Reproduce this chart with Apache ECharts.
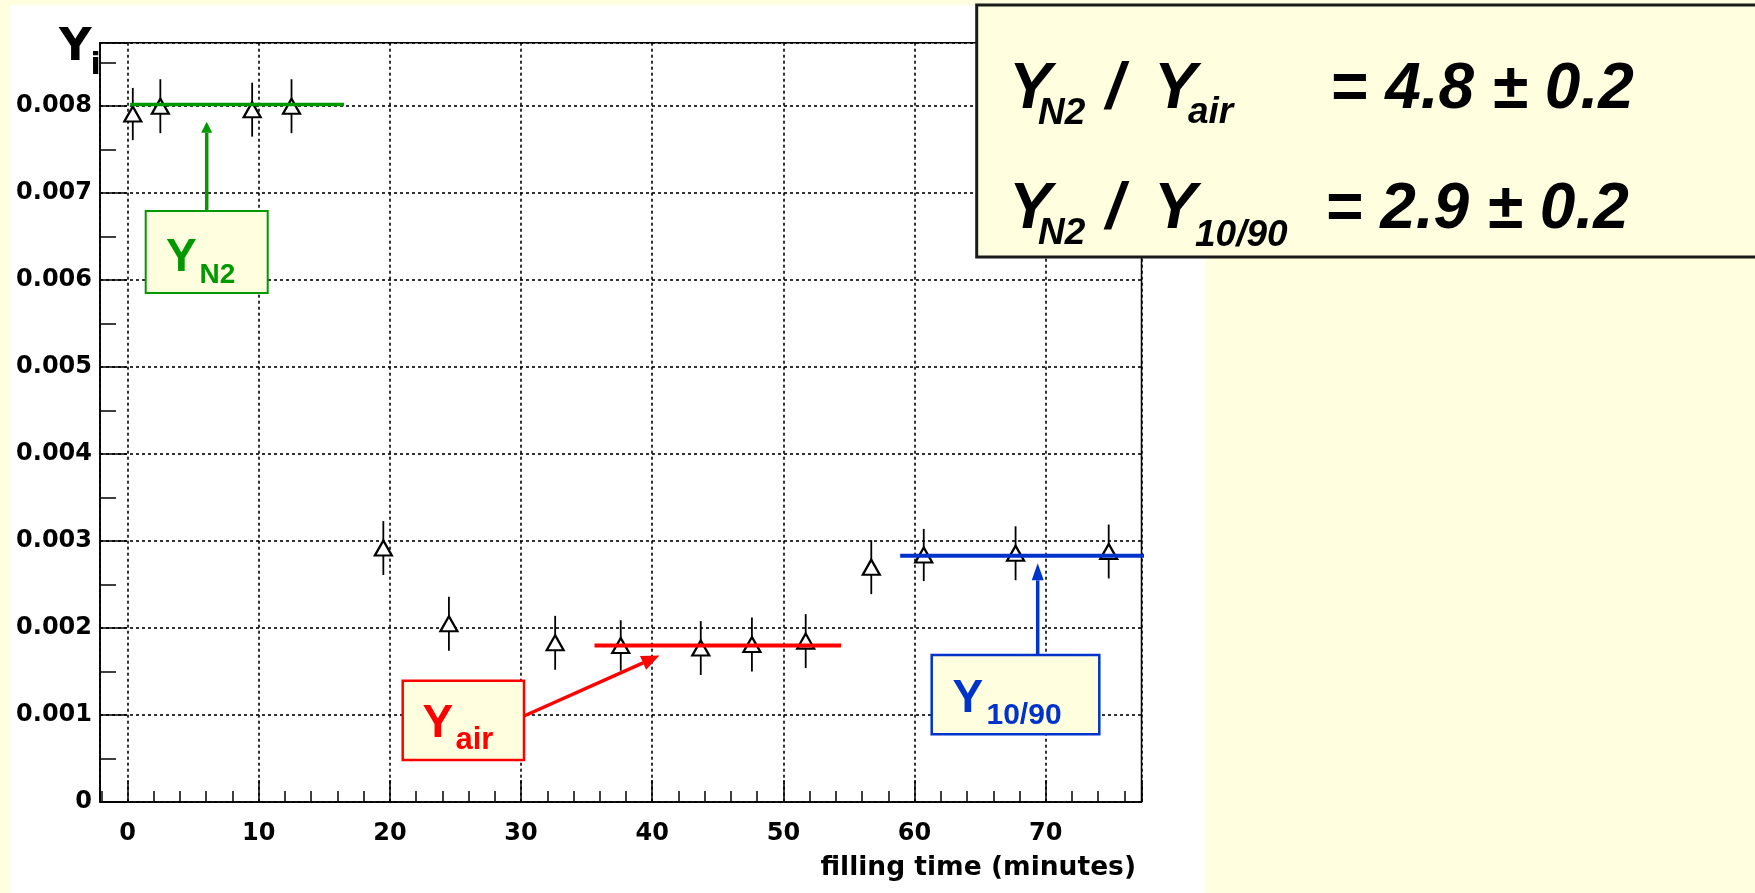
<!DOCTYPE html>
<html>
<head>
<meta charset="utf-8">
<title>Y_i vs filling time</title>
<script src="https://cdn.jsdelivr.net/npm/echarts@6/dist/echarts.min.js"></script>
<style>
    html, body { margin: 0; padding: 0; background: #ffffe0; }
    #main { width: 1755px; height: 893px; }
</style>
</head>
<body>
<div id="main"></div>
<script>
// measured points (filling time in minutes, yield, error)
var fillTime = [0.4, 2.5, 9.5, 12.5, 19.5, 24.5, 32.6, 37.6, 43.7, 47.6, 51.7, 56.7, 60.7, 67.7, 74.8];
var yieldVal = [0.00791, 0.00800, 0.00796, 0.00800, 0.00292, 0.00205, 0.00183, 0.00180, 0.00177, 0.00181, 0.00185, 0.00270, 0.00284, 0.00286, 0.00288];
var yieldErr = [0.00030, 0.00031, 0.00031, 0.00031, 0.00031, 0.00031, 0.00031, 0.00029, 0.00031, 0.00031, 0.00031, 0.00031, 0.00030, 0.00031, 0.00031];

// fitted levels: N2, air, 10/90
var fitFrom = [0.2, 35.6, 58.9];
var fitTo = [16.5, 54.4, 77.6];
var fitLevel = [0.00802, 0.00180, 0.00283];

var yTickLabels = ['0', '0.001', '0.002', '0.003', '0.004', '0.005', '0.006', '0.007', '0.008'];
var xTickLabels = ['0', '10', '20', '30', '40', '50', '60', '70'];

var GREEN = '#009900', RED = '#ff0000', BLUE = '#0033cc', BG = '#ffffe0';
var ROOTFONT = '"DejaVu Sans", Verdana, sans-serif';
var PPTFONT = '"Liberation Sans", Arial, sans-serif';

var myChart = echarts.init(document.getElementById('main'));

var points = fillTime.map(function(x, i) { return [x, yieldVal[i], yieldErr[i]]; });

function fitSeries(i, color, width) {
    return {
        type: 'line',
        data: [[fitFrom[i], fitLevel[i]], [fitTo[i], fitLevel[i]]],
        symbol: 'none',
        clip: false,
        silent: true,
        z: 6,
        lineStyle: { color: color, width: width }
    };
}

function txt(s, x, base, size, color, family, italic, align) {
    return {
        type: 'text', x: x, y: base - 0.3 * size, z: 40, silent: true,
        style: {
            text: s, fill: color,
            font: (italic ? 'italic ' : '') + 'bold ' + size + 'px ' + family,
            align: align || 'left', verticalAlign: 'middle',
            textAlign: align || 'left', textVerticalAlign: 'middle'
        }
    };
}

function arrow(x1, y1, x2, y2, color, w, headLen, headW) {
    var dx = x2 - x1, dy = y2 - y1, L = Math.sqrt(dx * dx + dy * dy);
    var ux = dx / L, uy = dy / L;
    var bx = x2 - ux * headLen, by = y2 - uy * headLen;
    var px = -uy * headW / 2, py = ux * headW / 2;
    return [
        { type: 'line', z: 20, silent: true, shape: { x1: x1, y1: y1, x2: bx, y2: by }, style: { stroke: color, lineWidth: w } },
        { type: 'polygon', z: 20, silent: true, shape: { points: [[x2, y2], [bx + px, by + py], [bx - px, by - py]] }, style: { fill: color } }
    ];
}

function box(x, y, w, h, color, lw) {
    return { type: 'rect', z: 19, silent: true, shape: { x: x, y: y, width: w, height: h }, style: { fill: BG, stroke: color, lineWidth: lw } };
}

var graphics = [
    // white ROOT canvas
    { type: 'rect', z: -1, silent: true, shape: { x: 10, y: 5, width: 1196, height: 888 }, style: { fill: '#fff' } },
    // axis titles
    txt('Y', 59, 61.7, 45, '#000', ROOTFONT),
    txt('i', 90.5, 75, 30, '#000', ROOTFONT),
    txt('filling time (minutes)', 1136, 876, 26.5, '#000', ROOTFONT, false, 'right'),
    // N2 label
    box(145.7, 211, 122, 82, GREEN, 2),
    txt('Y', 166, 271.7, 46, GREEN, PPTFONT),
    txt('N2', 199.5, 283.3, 28, GREEN, PPTFONT),
    // air label
    box(402.7, 680.7, 121.3, 79.3, RED, 2.5),
    txt('Y', 422.5, 738.3, 46, RED, PPTFONT),
    txt('air', 455.5, 750, 31, RED, PPTFONT),
    // 10/90 label
    box(931.7, 655, 167.6, 79.3, BLUE, 2.5),
    txt('Y', 952.5, 712.7, 46, BLUE, PPTFONT),
    txt('10/90', 986.5, 725, 30, BLUE, PPTFONT),
    // ratio box
    { type: 'rect', z: 30, silent: true, shape: { x: 976.7, y: 5, width: 800, height: 252 }, style: { fill: BG, stroke: '#1a1a1a', lineWidth: 3 } },
    txt('Y', 1009, 110, 64, '#000', PPTFONT, true),
    txt('N2', 1038, 125, 37, '#000', PPTFONT, true),
    txt('/', 1106, 110, 64, '#000', PPTFONT, true),
    txt('Y', 1154, 110, 64, '#000', PPTFONT, true),
    txt('air', 1188, 124, 37, '#000', PPTFONT, true),
    txt('= 4.8 \u00b1 0.2', 1330, 110, 64, '#000', PPTFONT, true),
    txt('Y', 1009, 230, 64, '#000', PPTFONT, true),
    txt('N2', 1038, 245, 37, '#000', PPTFONT, true),
    txt('/', 1106, 230, 64, '#000', PPTFONT, true),
    txt('Y', 1154, 230, 64, '#000', PPTFONT, true),
    txt('10/90', 1195, 247, 37, '#000', PPTFONT, true),
    txt('= 2.9 \u00b1 0.2', 1325, 230, 64, '#000', PPTFONT, true)
];
graphics = graphics
    .concat(arrow(206.7, 211, 206.7, 121.7, GREEN, 3.5, 11, 11))
    .concat(arrow(524, 716, 659.5, 655.5, RED, 3.5, 18, 15))
    .concat(arrow(1037.7, 655, 1037.7, 563.3, BLUE, 3.5, 17, 12));

var gridDash = { color: '#000', width: 1.6, type: [3, 3] };

option = {
    backgroundColor: BG,
    animation: false,
    grid: {
        left: 100, right: 613.5, top: 42.7, bottom: 91,
        show: true, borderColor: '#000', borderWidth: 1.5, backgroundColor: 'transparent'
    },
    xAxis: {
        type: 'value', min: -2.1, max: 77.3, splitNumber: 8,
        axisLine: { show: true, onZero: false, lineStyle: { color: '#000', width: 1.5 } },
        axisTick: { show: true, inside: true, length: 22, lineStyle: { color: '#000', width: 1.5 } },
        minorTick: { show: true, splitNumber: 5, length: 11, lineStyle: { color: '#000', width: 1.5 } },
        splitLine: { show: true, lineStyle: gridDash },
        axisLabel: {
            showMinLabel: false, showMaxLabel: false, margin: 20,
            color: '#000', fontFamily: ROOTFONT, fontWeight: 'bold', fontSize: 24,
            formatter: function(v) { var k = Math.round(v / 10); return (Math.abs(v - k * 10) < 1e-6 && xTickLabels[k]) || ''; }
        }
    },
    yAxis: {
        type: 'value', min: 0, max: 0.00873, interval: 0.001,
        axisLine: { show: true, onZero: false, lineStyle: { color: '#000', width: 1.5 } },
        axisTick: { show: true, inside: true, length: 27, lineStyle: { color: '#000', width: 1.5 } },
        minorTick: { show: true, splitNumber: 2, length: 16, lineStyle: { color: '#000', width: 1.5 } },
        splitLine: { show: true, lineStyle: gridDash },
        axisLabel: {
            showMaxLabel: false, margin: 8,
            color: '#000', fontFamily: ROOTFONT, fontWeight: 'bold', fontSize: 24,
            formatter: function(v) { var k = Math.round(v / 0.001); return (Math.abs(v - k * 0.001) < 1e-9 && yTickLabels[k]) || ''; }
        }
    },
    series: [
        {
            type: 'custom',
            data: points,
            encode: { x: 0, y: 1 },
            silent: true,
            z: 2,
            renderItem: function(params, api) {
                var x = api.value(0), y = api.value(1), e = api.value(2);
                var top = api.coord([x, y + e]);
                var bot = api.coord([x, y - e]);
                return {
                    type: 'line',
                    shape: { x1: top[0], y1: top[1], x2: bot[0], y2: bot[1] },
                    style: { stroke: '#000', lineWidth: 1.8 }
                };
            }
        },
        {
            type: 'scatter',
            data: points,
            symbol: 'triangle',
            symbolSize: [17, 15],
            silent: true,
            z: 3,
            itemStyle: { color: '#fff', borderColor: '#000', borderWidth: 2.2, opacity: 1 }
        },
        fitSeries(0, GREEN, 3.5),
        fitSeries(1, RED, 4),
        fitSeries(2, BLUE, 4)
    ],
    graphic: graphics
};

myChart.setOption(option);
</script>
</body>
</html>
